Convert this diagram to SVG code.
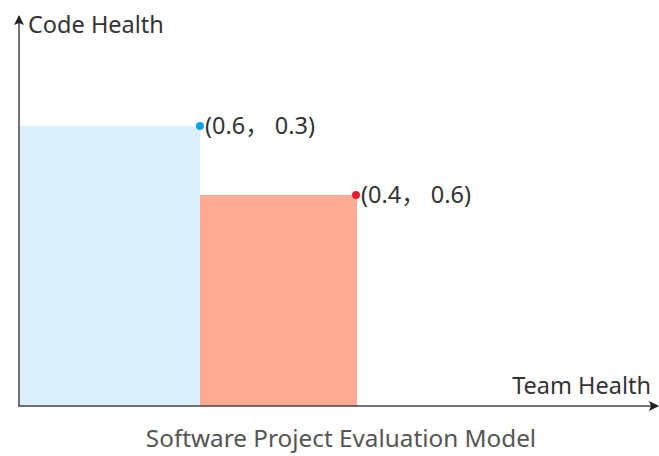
<svg xmlns="http://www.w3.org/2000/svg" width="659" height="456" viewBox="0 0 659 456">
<style>
text{font-family:"Noto Sans","Open Sans","Noto Sans CJK SC",sans-serif;fill:#333}
.axis{stroke:#444;stroke-width:1.5;fill:none}
.lbl{font-size:23.5px}
</style>
<defs>
<marker id="arr" viewBox="0 0 10 10" refX="9" refY="5" markerWidth="12" markerHeight="10" orient="auto" markerUnits="userSpaceOnUse">
<path d="M0,0 L10,5 L0,10 L2,5 Z" fill="#222"/>
</marker>
</defs>
<rect width="659" height="456" fill="#fff"/>
<g id="bar-a"><rect x="19" y="126" width="181" height="280" fill="#daeffa"/></g>
<g id="bar-b"><rect x="200" y="195" width="157" height="211" fill="#fcab92"/></g>
<g id="connectors">
<line class="axis" x1="19" y1="406" x2="19" y2="16" marker-end="url(#arr)"/>
<line class="axis" x1="18" y1="406" x2="658" y2="406" marker-end="url(#arr)"/>
</g>
<g id="point-a"><circle cx="200" cy="126" r="4" fill="#0aa5e6"/><text class="lbl" x="205" y="134">(0.6， 0.3)</text></g>
<g id="point-b"><circle cx="356" cy="195" r="4" fill="#ea1c2d"/><text class="lbl" x="361" y="203">(0.4， 0.6)</text></g>
<text class="lbl" x="28" y="33">Code Health</text>
<text class="lbl" x="651" y="394" text-anchor="end">Team Health</text>
<text x="341" y="447" text-anchor="middle" font-size="24.3" style="fill:#555">Software Project Evaluation Model</text>
</svg>
